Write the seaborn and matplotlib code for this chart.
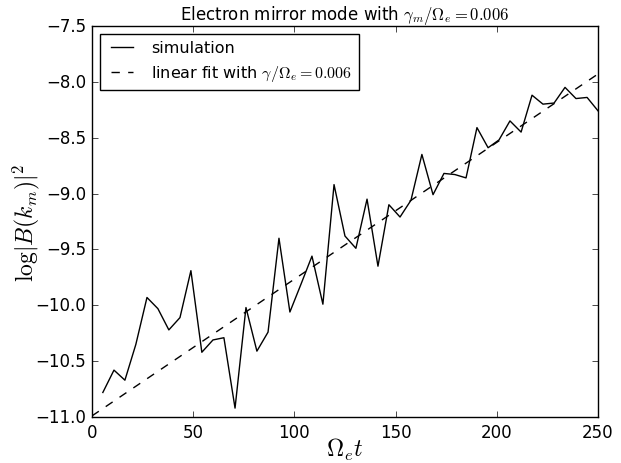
import numpy as np
import pandas as pd
import matplotlib
matplotlib.use('Agg')
import matplotlib.pyplot as plt
import seaborn as sns

# simulation samples
t_sim = [5.4, 10.9, 16.3, 21.7, 27.2, 32.6, 38.0, 43.5, 48.9, 54.3,
         59.8, 65.2, 70.7, 76.1, 81.5, 87.0, 92.4, 97.8, 103.3, 108.7,
         114.1, 119.6, 125.0, 130.4, 135.9, 141.3, 146.7, 152.2, 157.6, 163.0,
         168.5, 173.9, 179.3, 184.8, 190.2, 195.7, 201.1, 206.5, 212.0, 217.4,
         222.8, 228.3, 233.7, 239.1, 244.6, 250.0]
logB_sim = [-10.78, -10.58, -10.67, -10.35, -9.93, -10.03, -10.22, -10.11, -9.69, -10.42,
            -10.31, -10.29, -10.92, -10.02, -10.41, -10.24, -9.40, -10.06, -9.81, -9.56,
            -9.99, -8.92, -9.38, -9.49, -9.05, -9.65, -9.10, -9.21, -9.06, -8.65,
            -9.01, -8.82, -8.83, -8.86, -8.41, -8.59, -8.52, -8.35, -8.45, -8.12,
            -8.20, -8.19, -8.05, -8.15, -8.14, -8.26]

# linear fit end points
t_fit = [0.0, 250.0]
logB_fit = [-10.99, -7.93]

plt.style.use('classic')
plt.rcParams['figure.facecolor'] = 'white'
plt.rcParams['savefig.facecolor'] = 'white'
plt.rcParams['mathtext.fontset'] = 'cm'

sim = pd.DataFrame({'t': t_sim, 'logB': logB_sim})
fit = pd.DataFrame({'t': t_fit, 'logB': logB_fit})

fig = plt.figure(figsize=(6.21, 4.64), dpi=100)
ax = fig.add_axes([0.148, 0.099, 0.815, 0.843])

sns.lineplot(ax=ax, data=sim, x='t', y='logB', color='black', lw=1.0,
             label='simulation')
sns.lineplot(ax=ax, data=fit, x='t', y='logB', color='black', lw=1.0,
             linestyle='--', label=r'linear fit with $\gamma/\Omega_e=0.006$')

ax.set_xlim(0, 250)
ax.set_ylim(-11.0, -7.5)
ax.set_xticks([0, 50, 100, 150, 200, 250])
ax.set_yticks(np.arange(-11.0, -7.49, 0.5))
ax.tick_params(labelsize=12, direction='in', top=True, right=True)
ax.set_xlabel(r'$\Omega_e t$', fontsize=17)
ax.set_ylabel(r'$\log|B(k_m)|^2$', fontsize=17)
ax.xaxis.set_label_coords(0.5, -0.048)
ax.yaxis.set_label_coords(-0.098, 0.5)
ax.set_title(r'Electron mirror mode with $\gamma_m/\Omega_e=0.006$', fontsize=12)
ax.legend(loc='upper left', fontsize=11.5, frameon=True, fancybox=False)

fig.savefig('out.png', dpi=100)
